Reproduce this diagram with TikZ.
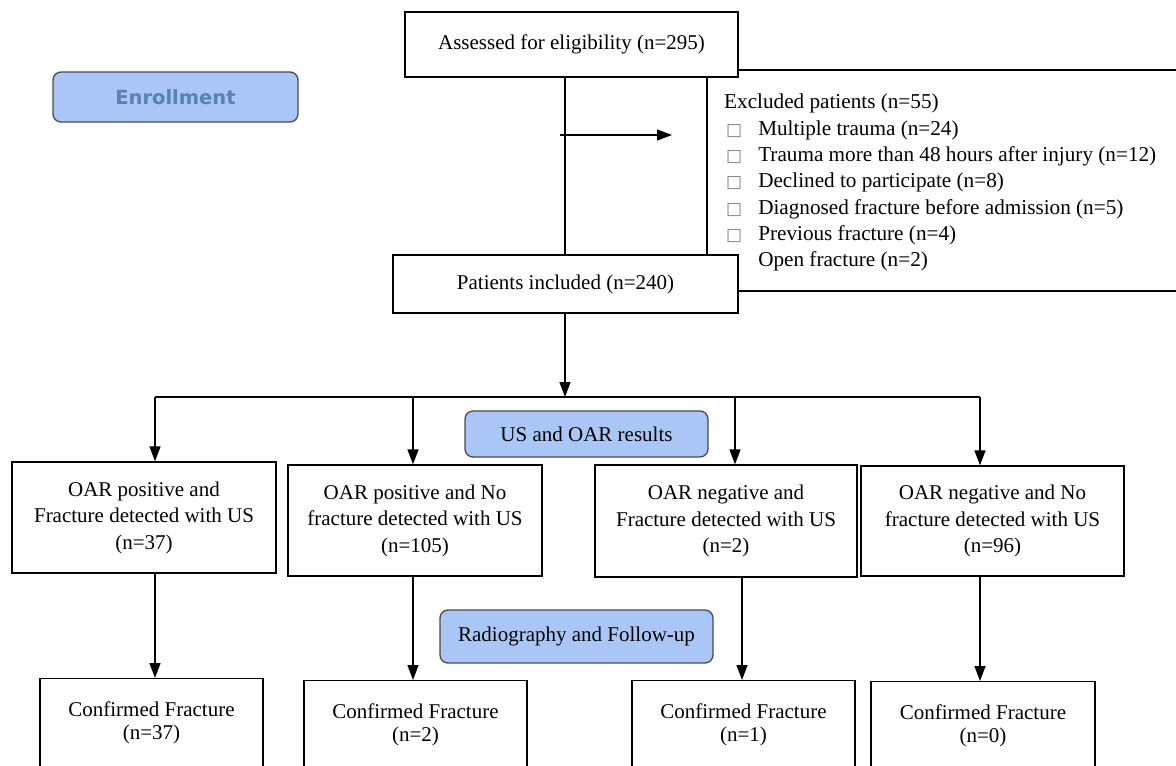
\documentclass[tikz,border=0pt]{standalone}
\usepackage{fontspec}
\setmainfont{Liberation Serif}
\newfontfamily\dejavu{DejaVu Sans}
\usetikzlibrary{arrows.meta}
\definecolor{phasefill}{HTML}{A9C6F7}
\definecolor{phasetext}{HTML}{5A80B4}
\definecolor{phasedraw}{HTML}{4A4A4A}
\tikzset{
  box/.style={draw=black, line width=1.3pt, fill=white, align=center, inner sep=0pt,
    font=\fontsize{21}{26.5}\selectfont},
  phase/.style={draw=phasedraw, line width=1.3pt, fill=phasefill, rounded corners=8pt,
    align=center, inner sep=0pt, font=\fontsize{21}{24}\selectfont},
  cbox/.style={box, anchor=north, minimum width=223pt, inner ysep=23pt, text depth=70pt,
    font=\fontsize{21}{23}\selectfont},
  conn/.style={line width=1.3pt},
  arr/.style={line width=1.3pt, -{Triangle[length=15pt,width=11pt]}}
}
\newcommand{\tofu}{\hspace{2pt}{\dejavu\fontsize{17}{17}\selectfont\color{black!50}\symbol{"25A1}}\hspace{16pt}}
\newcommand{\notofu}{\hspace{2pt}{\dejavu\fontsize{17}{17}\selectfont\phantom{\symbol{"25A1}}}\hspace{16pt}}
\begin{document}
\begin{tikzpicture}[x=1pt,y=-1pt]
\useasboundingbox (0,0) rectangle (1176,766);
\clip (0,0) rectangle (1176,766);

% Enrollment label
\node[phase, minimum width=245pt, minimum height=50pt,
  font=\dejavu\bfseries\fontsize{19.5}{22}\selectfont, text=phasetext] (enroll) at (175.5,97) {Enrollment};

% Excluded box (extends past right edge)
\node[box, minimum width=483pt, minimum height=221pt] (excl) at (948.5,180.5) {};
\node[anchor=north west, align=left, inner sep=0pt, font=\fontsize{21.2}{26.3}\selectfont] (excltext) at (724,94)
{Excluded patients (n=55)\\
\tofu Multiple trauma (n=24)\\
\tofu Trauma more than 48 hours after injury (n=12)\\
\tofu Declined to participate (n=8)\\
\tofu Diagnosed fracture before admission (n=5)\\
\tofu Previous fracture (n=4)\\
\notofu Open fracture (n=2)};

% Assessed
\node[box, minimum width=333pt, minimum height=65pt] (assess) at (571.5,44.5) {Assessed for eligibility (n=295)};

% Patients included
\coordinate (vx) at (565,0);
\node[box, minimum width=345pt, minimum height=58pt] (incl) at (565.5,284) {Patients included (n=240)};
\draw[conn] (vx |- assess.south) -- (vx |- incl.north);

% arrow to excluded
\coordinate (xa) at (560,135);
\coordinate (xb) at (672,135);
\draw[arr] (xa) -- (xb);

% split
\coordinate (split) at (565,397);
\draw[arr] (vx |- incl.south) -- (split);
\coordinate (h1) at (155,397);
\coordinate (h2) at (413,397);
\coordinate (h3) at (735,397);
\coordinate (h4) at (980,397);
\draw[conn] (h1) -- (h4);

% phase label
\node[phase, minimum width=243pt, minimum height=46pt] (usoar) at (586.5,434) {US and OAR results};

% row 2
\node[box, minimum width=264pt, minimum height=111pt] (b1) at (144,517.5) {OAR positive and\\Fracture detected with US\\(n=37)};
\node[box, minimum width=254pt, minimum height=111pt] (b2) at (415,520.5) {OAR positive and No\\fracture detected with US\\(n=105)};
\node[box, minimum width=262pt, minimum height=112pt] (b3) at (726,521) {OAR negative and\\Fracture detected with US\\(n=2)};
\node[box, minimum width=263pt, minimum height=110pt] (b4) at (992.5,521) {OAR negative and No\\fracture detected with US\\(n=96)};

\draw[arr] (h1) -- (h1 |- b1.north);
\draw[arr] (h2) -- (h2 |- b2.north);
\draw[arr] (h3) -- (h3 |- b3.north);
\draw[arr] (h4) -- (h4 |- b4.north);

% phase label 2
\node[phase, minimum width=273pt, minimum height=53pt] (radio) at (576.5,636.5) {Radiography and Follow-up};

% row 3
\node[cbox] (c1) at (151.5,678) {Confirmed Fracture\\(n=37)};
\node[cbox] (c2) at (415.5,680) {Confirmed Fracture\\(n=2)};
\node[cbox] (c3) at (743.5,680) {Confirmed Fracture\\(n=1)};
\node[cbox, minimum width=224pt] (c4) at (983,681) {Confirmed Fracture\\(n=0)};

\coordinate (d1) at (155,0);
\coordinate (d2) at (413,0);
\coordinate (d3) at (742,0);
\coordinate (d4) at (980,0);
\draw[arr] (d1 |- b1.south) -- (d1 |- c1.north);
\draw[arr] (d2 |- b2.south) -- (d2 |- c2.north);
\draw[arr] (d3 |- b3.south) -- (d3 |- c3.north);
\draw[arr] (d4 |- b4.south) -- (d4 |- c4.north);
\end{tikzpicture}
\end{document}
